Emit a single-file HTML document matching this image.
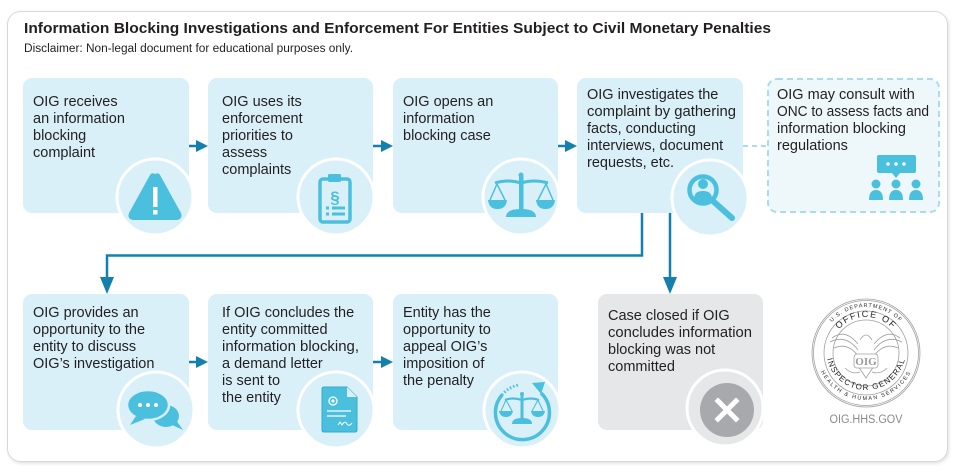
<!DOCTYPE html>
<html><head><meta charset="utf-8"><style>
html,body{margin:0;padding:0;background:#fff;}
svg{display:block;}
text{font-family:"Liberation Sans",sans-serif;fill:#231f20;}
.t{font-size:14.5px;}
</style></head><body>
<svg width="960" height="475" viewBox="0 0 960 475" xmlns="http://www.w3.org/2000/svg">
<defs>
<filter id="sh" x="-5%" y="-5%" width="110%" height="110%"><feDropShadow dx="1" dy="1.5" stdDeviation="1.5" flood-color="#000" flood-opacity="0.12"/></filter>
<path id="arcTop" d="M 820 353 A 46 46 0 0 1 912 353"/>
<path id="arcTop2" d="M 830 353 A 36 36 0 0 1 902 353"/>
<path id="arcBot" d="M 816 350 A 50 50 0 0 0 916 350"/>
<path id="arcBot2" d="M 826 350 A 40 40 0 0 0 906 350"/>
</defs>
<rect x="7.5" y="11.5" width="940" height="450" rx="13" fill="#fff" stroke="#d8d8d8" filter="url(#sh)"/>

<text x="24" y="33" font-size="15" font-weight="bold" textLength="747" lengthAdjust="spacingAndGlyphs">Information Blocking Investigations and Enforcement For Entities Subject to Civil Monetary Penalties</text>
<text x="24" y="52" font-size="11.5" textLength="329" lengthAdjust="spacingAndGlyphs">Disclaimer: Non-legal document for educational purposes only.</text>

<!-- connectors -->
<g stroke="#1480ad" stroke-width="2.5" fill="none">
<line x1="182" y1="146" x2="199" y2="146"/>
<line x1="367" y1="146" x2="385" y2="146"/>
<line x1="551" y1="146" x2="569" y2="146"/>
<line x1="182" y1="362" x2="199" y2="362"/>
<line x1="367" y1="362" x2="385" y2="362"/>
<polyline points="642,213 642,255.5 107,255.5 107,280"/>
<line x1="670" y1="213" x2="670" y2="280"/>
</g>
<g fill="#1480ad">
<polygon points="196,140 208,146 196,152"/>
<polygon points="381,140 393,146 381,152"/>
<polygon points="565,140 577,146 565,152"/>
<polygon points="196,356 208,362 196,368"/>
<polygon points="381,356 393,362 381,368"/>
<polygon points="100,277 114,277 107,294"/>
<polygon points="663,277 677,277 670,294"/>
</g>
<line x1="743" y1="146" x2="767" y2="146" stroke="#a9dcec" stroke-width="2" stroke-dasharray="5,4"/>

<!-- row 1 boxes -->
<g fill="#d9f0f8">
<rect x="23" y="78" width="166" height="135" rx="9"/>
<rect x="208" y="78" width="165" height="135" rx="9"/>
<rect x="393" y="78" width="165" height="135" rx="9"/>
<rect x="577" y="78" width="166" height="135" rx="9"/>
<rect x="23" y="294" width="166" height="136" rx="9"/>
<rect x="208" y="294" width="165" height="136" rx="9"/>
<rect x="393" y="294" width="165" height="136" rx="9"/>
</g>
<rect x="598" y="294" width="165" height="136" rx="9" fill="#e6e7e8"/>
<rect x="768" y="79" width="171" height="133" rx="9" fill="#eef8fb" stroke="#a9dcec" stroke-width="2" stroke-dasharray="6,4"/>

<!-- circles -->
<g fill="#d9f0f8" stroke="#fff" stroke-width="3">
<circle cx="155" cy="197" r="38"/>
<circle cx="336" cy="197" r="38"/>
<circle cx="521" cy="197" r="38"/>
<circle cx="710" cy="198" r="38"/>
<circle cx="156" cy="410" r="38"/>
<circle cx="336" cy="410" r="38"/>
<circle cx="522" cy="410" r="38"/>
</g>
<circle cx="725" cy="408" r="38" fill="#e6e7e8" stroke="#fff" stroke-width="3"/>

<!-- texts row 1 -->
<g class="t">
<text x="33" y="106" class="t">OIG receives</text>
<text x="33" y="123" class="t">an information</text>
<text x="33" y="140" class="t">blocking</text>
<text x="33" y="157" class="t">complaint</text>

<text x="222" y="106" class="t">OIG uses its</text>
<text x="222" y="123" class="t">enforcement</text>
<text x="222" y="140" class="t">priorities to</text>
<text x="222" y="157" class="t">assess</text>
<text x="222" y="174" class="t">complaints</text>

<text x="403" y="106" class="t">OIG opens an</text>
<text x="403" y="123" class="t">information</text>
<text x="403" y="140" class="t">blocking case</text>

<text x="587" y="99" class="t">OIG investigates the</text>
<text x="587" y="116" class="t" textLength="149" lengthAdjust="spacingAndGlyphs">complaint by gathering</text>
<text x="587" y="133" class="t">facts, conducting</text>
<text x="587" y="150" class="t">interviews, document</text>
<text x="587" y="167" class="t">requests, etc.</text>

<text x="777" y="99" class="t">OIG may consult with</text>
<text x="777" y="116" class="t" textLength="152" lengthAdjust="spacingAndGlyphs">ONC to assess facts and</text>
<text x="777" y="133" class="t">information blocking</text>
<text x="777" y="150" class="t">regulations</text>

<text x="33" y="317" class="t">OIG provides an</text>
<text x="33" y="334" class="t">opportunity to the</text>
<text x="33" y="351" class="t">entity to discuss</text>
<text x="33" y="368" class="t">OIG’s investigation</text>

<text x="222" y="317" class="t">If OIG concludes the</text>
<text x="222" y="334" class="t">entity committed</text>
<text x="222" y="351" class="t" textLength="137" lengthAdjust="spacingAndGlyphs">information blocking,</text>
<text x="222" y="368" class="t">a demand letter</text>
<text x="222" y="385" class="t">is sent to</text>
<text x="222" y="402" class="t">the entity</text>

<text x="403" y="317" class="t">Entity has the</text>
<text x="403" y="334" class="t">opportunity to</text>
<text x="403" y="351" class="t">appeal OIG’s</text>
<text x="403" y="368" class="t">imposition of</text>
<text x="403" y="385" class="t">the penalty</text>

<text x="608" y="320" class="t">Case closed if OIG</text>
<text x="608" y="337" class="t" textLength="144" lengthAdjust="spacingAndGlyphs">concludes information</text>
<text x="608" y="354" class="t">blocking was not</text>
<text x="608" y="371" class="t">committed</text>
</g>

<!-- icon 1: warning -->
<path d="M155 174 Q158 172 160 175 L181 213 Q183 219 177 220 L133 220 Q127 219 129 213 L150 175 Q152 172 155 174 Z" fill="#4bbfde"/>
<rect x="153" y="187" width="4.5" height="20" fill="#fff"/>
<rect x="153" y="210" width="4.5" height="4.5" fill="#fff"/>

<!-- icon 2: clipboard -->
<rect x="320" y="179" width="30" height="43" rx="3" fill="none" stroke="#4bbfde" stroke-width="3.5"/>
<rect x="328" y="174" width="13" height="8" rx="1.5" fill="#4bbfde"/>
<text x="335" y="203" font-size="17" font-weight="bold" text-anchor="middle" style="fill:#4bbfde">§</text>
<rect x="326" y="206.5" width="3" height="3" fill="#4bbfde"/>
<rect x="332" y="206.5" width="13" height="3" fill="#4bbfde"/>
<rect x="326" y="212.5" width="3" height="3" fill="#4bbfde"/>
<rect x="332" y="212.5" width="13" height="3" fill="#4bbfde"/>

<!-- icon 3: scales -->
<g fill="#4bbfde" stroke="#4bbfde">
<circle cx="521" cy="175" r="2.5" stroke="none"/>
<rect x="519" y="176" width="4.5" height="35" stroke="none"/>
<path d="M495 183 Q508 179 521 183 Q534 179 548 183" fill="none" stroke-width="3"/>
<path d="M497 184 L490 200 M497 184 L505 200 M546 184 L538 200 M546 184 L553 200" fill="none" stroke-width="1.5"/>
<path d="M488 200 L507 200 Q506 209 497.5 209 Q489 209 488 200 Z" stroke="none"/>
<path d="M536 200 L555 200 Q554 209 545.5 209 Q537 209 536 200 Z" stroke="none"/>
<path d="M506 217 Q506 209 521 209 Q536 209 536 217 Z" stroke="none"/>
</g>

<!-- icon 4: magnifier -->
<circle cx="703" cy="190" r="13.5" fill="none" stroke="#4bbfde" stroke-width="4.5"/>
<circle cx="703" cy="184" r="5" fill="#4bbfde"/>
<path d="M694 199 Q694 191 703 191 Q712 191 712 199 Q708 202 703 202 Q698 202 694 199 Z" fill="#4bbfde"/>
<line x1="713" y1="201" x2="732" y2="218" stroke="#4bbfde" stroke-width="6" stroke-linecap="round"/>

<!-- icon 5: people + speech -->
<g fill="#4bbfde">
<rect x="877" y="155" width="39" height="18" rx="2"/>
<polygon points="892,173 900,173 896,178"/>
<circle cx="876" cy="184" r="4.5"/>
<circle cx="896" cy="184" r="4.5"/>
<circle cx="916" cy="184" r="4.5"/>
<path d="M869 200 Q869 190 876 190 Q883 190 883 200 Z"/>
<path d="M889 200 Q889 190 896 190 Q903 190 903 200 Z"/>
<path d="M909 200 Q909 190 916 190 Q923 190 923 200 Z"/>
</g>
<circle cx="888" cy="164" r="1.7" fill="#fff"/>
<circle cx="896" cy="164" r="1.7" fill="#fff"/>
<circle cx="904" cy="164" r="1.7" fill="#fff"/>

<!-- icon 6: chat bubbles -->
<g fill="#4bbfde">
<ellipse cx="166" cy="416" rx="13" ry="11" stroke="#d9f0f8" stroke-width="0"/>
<polygon points="170,424 183,430 176,420"/>
</g>
<ellipse cx="148" cy="405" rx="21" ry="15" fill="#4bbfde" stroke="#d9f0f8" stroke-width="2.5"/>
<polygon points="136,416 130,425 145,419" fill="#4bbfde"/>
<circle cx="140" cy="405" r="2" fill="#fff"/>
<circle cx="148" cy="405" r="2" fill="#fff"/>
<circle cx="156" cy="405" r="2" fill="#fff"/>

<!-- icon 7: document -->
<path d="M322 389 Q322 387 324 387 L347 387 L357 397 L357 430 Q357 432 355 432 L324 432 Q322 432 322 430 Z" fill="#4bbfde" stroke="#3aa9c9" stroke-width="1"/>
<path d="M347 387 L347 397 L357 397 Z" fill="#d9f0f8"/>
<circle cx="333" cy="401" r="4" fill="none" stroke="#fff" stroke-width="1.3"/>
<circle cx="333" cy="401" r="1.6" fill="#fff"/>
<line x1="327" y1="411" x2="351" y2="411" stroke="#fff" stroke-width="1.2"/>
<line x1="327" y1="416" x2="346" y2="416" stroke="#fff" stroke-width="1.2"/>
<path d="M338 425 L340 422 L342 425 Q345 420 347 424 Q349 427 352 423" fill="none" stroke="#fff" stroke-width="1"/>

<!-- icon 8: scales with circular arrow -->
<path d="M541 393 A 27 27 0 1 1 502 395" fill="none" stroke="#4bbfde" stroke-width="3.5"/>
<path d="M502 395 A 27 27 0 0 1 519 385" fill="none" stroke="#4bbfde" stroke-width="3" stroke-dasharray="1.5,2"/>
<polygon points="532,383 545,382 541,394" fill="#4bbfde"/>
<g fill="#4bbfde" stroke="#4bbfde">
<rect x="520.5" y="394" width="3" height="26" stroke="none"/>
<circle cx="522" cy="394" r="2" stroke="none"/>
<path d="M505 400 Q513 397 522 400 Q531 397 539 400" fill="none" stroke-width="2.2"/>
<path d="M506 400 L501 411 M506 400 L512 411 M538 400 L532 411 M538 400 L543 411" fill="none" stroke-width="1.1"/>
<path d="M499 411 L513 411 Q512 417 506 417 Q500 417 499 411 Z" stroke="none"/>
<path d="M531 411 L545 411 Q544 417 538 417 Q532 417 531 411 Z" stroke="none"/>
<path d="M512 424 Q512 418 522 418 Q532 418 532 424 Z" stroke="none"/>
</g>

<!-- icon 9: grey X -->
<circle cx="727" cy="410" r="27" fill="#a7a9ac"/>
<path d="M718 401 L736 419 M736 401 L718 419" stroke="#fff" stroke-width="5" stroke-linecap="square"/>

<!-- seal -->
<g fill="none" stroke="#a0a0a0" stroke-width="0.8">
<circle cx="866" cy="353" r="54"/>
<circle cx="866" cy="353" r="52.5"/>
<circle cx="866" cy="353" r="42"/>
<circle cx="866" cy="353" r="33"/>
<path d="M832 338 Q845 328 858 344 M900 338 Q887 328 874 344"/>
<path d="M830 342 Q846 334 858 350 M902 342 Q886 334 874 350"/>
<path d="M834 348 Q848 342 858 356 M898 348 Q884 342 874 356"/>
<path d="M845 368 Q852 375 860 372 M887 368 Q880 375 872 372"/>
<path d="M858 366 L866 378 L874 366"/>
<path d="M860 340 Q866 330 872 340"/>
</g>
<rect x="854" y="354" width="24" height="14" rx="3" fill="#fff" stroke="#a0a0a0" stroke-width="0.8"/>
<text x="866" y="365" font-size="11" font-weight="bold" text-anchor="middle" style="fill:#999;font-family:'Liberation Serif',serif">OIG</text>
<g style="fill:#a0a0a0;font-family:'Liberation Serif',serif">
<text font-size="5.5" letter-spacing="1"><textPath href="#arcTop" startOffset="50%" text-anchor="middle">U.S. DEPARTMENT OF</textPath></text>
<text font-size="9" letter-spacing="1.5"><textPath href="#arcTop2" startOffset="50%" text-anchor="middle">OFFICE OF</textPath></text>
<text font-size="5.5" letter-spacing="1.5"><textPath href="#arcBot" startOffset="50%" text-anchor="middle">HEALTH &amp; HUMAN SERVICES</textPath></text>
<text font-size="8" letter-spacing="1.2"><textPath href="#arcBot2" startOffset="50%" text-anchor="middle">INSPECTOR GENERAL</textPath></text>
</g>
<text x="866" y="423" font-size="11.5" text-anchor="middle" textLength="73" lengthAdjust="spacingAndGlyphs" style="fill:#8a8a8a">OIG.HHS.GOV</text>
</svg>
</body></html>
